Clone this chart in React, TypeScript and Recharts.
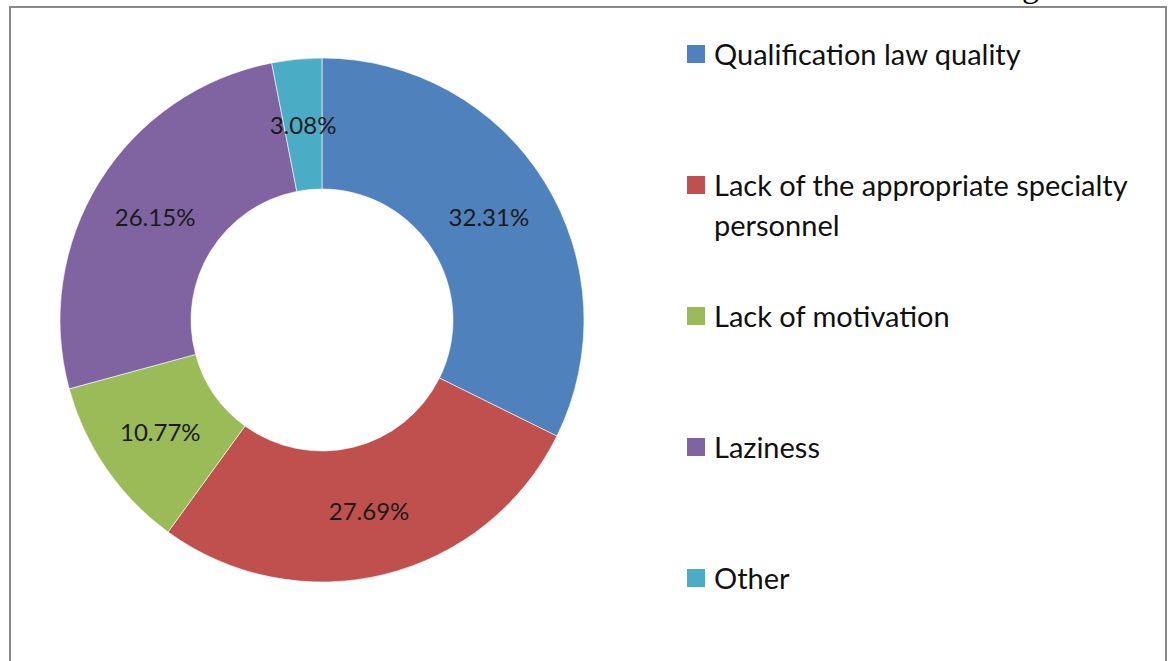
import { PieChart, Pie, Cell, Legend } from 'recharts'

const categories = [
  'Qualification law quality',
  'Lack of the appropriate specialty personnel',
  'Lack of motivation',
  'Laziness',
  'Other',
]
// respondents per answer (65 in total)
const counts = [21, 18, 7, 17, 2]
const colors = ['#4F81BD', '#C0504D', '#9BBB59', '#8064A2', '#4BACC6']

const data = categories.map((name, i) => ({ name, value: counts[i] }))

const RADIAN = Math.PI / 180
const font = 'Lato, "Open Sans", sans-serif'

const renderLabel = (props: any) => {
  const { cx, cy, midAngle, innerRadius, outerRadius, percent } = props
  const r = (innerRadius + outerRadius) / 2
  const x = cx + r * Math.cos(-midAngle * RADIAN)
  const y = cy + r * Math.sin(-midAngle * RADIAN)
  return (
    <text
      x={x}
      y={y}
      fill="#1a1a1a"
      fontSize={24}
      fontFamily={font}
      textAnchor="middle"
      dominantBaseline="central"
    >
      {(percent * 100).toFixed(2)}%
    </text>
  )
}

// legend drawn in the data order (recharts sorts the payload by name)
const renderLegend = () => (
  <ul style={{ listStyle: 'none', margin: 0, padding: 0 }}>
    {categories.map((name, i) => (
      <li
        key={name}
        style={{
          display: 'flex',
          alignItems: 'flex-start',
          height: 131,
          fontFamily: font,
          fontSize: 29,
          lineHeight: '40px',
          color: '#111',
        }}
      >
        <span
          style={{
            display: 'inline-block',
            width: 18,
            height: 18,
            marginTop: 11,
            marginRight: 9,
            background: colors[i],
            flexShrink: 0,
          }}
        />
        <span style={{ width: 445 }}>{name}</span>
      </li>
    ))}
  </ul>
)

export default function App() {
  return (
    <div
      style={{
        position: 'absolute',
        left: 0,
        top: 0,
        width: 1172,
        height: 661,
        overflow: 'hidden',
        background: '#fff',
      }}
    >
      <div
        style={{
          position: 'absolute',
          left: 1022,
          top: -33,
          fontFamily: '"Liberation Serif", serif',
          fontSize: 34,
          color: '#000',
        }}
      >
        g
      </div>
      <div
        style={{
          position: 'absolute',
          left: 9,
          top: 6,
          width: 1154,
          height: 700,
          borderTop: '2px solid #888',
          borderLeft: '2px solid #888',
          borderRight: '2px solid #888',
        }}
      />
      <div style={{ position: 'absolute', left: 0, top: 0 }}>
        <PieChart width={1172} height={661} margin={{ top: 0, right: 0, bottom: 0, left: 0 }}>
          <Pie
            data={data}
            dataKey="value"
            nameKey="name"
            cx={322}
            cy={320}
            innerRadius={131}
            outerRadius={262}
            startAngle={90}
            endAngle={-270}
            stroke="#fff"
            strokeWidth={0.6}
            label={renderLabel}
            labelLine={false}
            isAnimationActive={false}
          >
            {data.map((d, i) => (
              <Cell key={d.name} fill={colors[i]} />
            ))}
          </Pie>
          <Legend
            layout="vertical"
            align="right"
            verticalAlign="top"
            content={renderLegend}
            wrapperStyle={{ left: 687, top: 34, width: 475 }}
          />
        </PieChart>
      </div>
    </div>
  )
}
